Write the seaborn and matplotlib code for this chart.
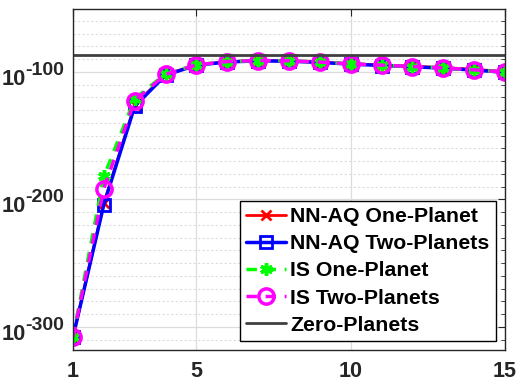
import numpy as np
import pandas as pd
import matplotlib
matplotlib.use("Agg")
import matplotlib.pyplot as plt
import seaborn as sns
from matplotlib.ticker import MultipleLocator, FixedLocator, NullFormatter

# exponents (log10 of the value)
steps = list(range(1, 16))
nn_aq_one = [-308, -203, -126, -102, -94.5, -92, -91.2, -91.4, -92.4, -93.6, -94.6, -95.6, -96.6, -98.0, -99.8]
nn_aq_two = [-308, -204, -127, -102.5, -94.8, -92.2, -91.4, -91.6, -92.6, -93.9, -95.0, -96.0, -97.1, -98.6, -100.3]
is_one = [-308, -182, -121, -101.5, -94.4, -91.9, -91.1, -91.3, -92.3, -93.7, -94.7, -95.8, -96.9, -98.4, -100.2]
is_two = [-308, -191.5, -122.5, -102, -94.5, -91.9, -91.1, -91.3, -92.3, -93.7, -94.7, -95.8, -96.9, -98.4, -100.2]
zero_planets = -87

labels = ["NN-AQ One-Planet", "NN-AQ Two-Planets", "IS One-Planet", "IS Two-Planets", "Zero-Planets"]
x_ticks = [1, 5, 10, 15]
y_ticks = [-300, -200, -100]

sns.set_style("white")
plt.rcParams["font.family"] = ["Liberation Sans", "DejaVu Sans"]
plt.rcParams["font.weight"] = "bold"

df = pd.DataFrame({"step": steps, "nn1": nn_aq_one, "nn2": nn_aq_two,
                   "is1": is_one, "is2": is_two})

fig = plt.figure(figsize=(5.25, 3.91), dpi=100)
ax = fig.add_axes([0.139, 0.105, 0.823, 0.871])

dash = (0, (3, 2.5))
sns.lineplot(data=df, x="step", y="nn1", ax=ax, color="red", lw=2, marker="x",
             markersize=7, mew=2, mec="red")
sns.lineplot(data=df, x="step", y="nn2", ax=ax, color="blue", lw=2.5, marker="s",
             markersize=8, mew=2, mfc="none", mec="blue")
sns.lineplot(data=df, x="step", y="is1", ax=ax, color="#00ff00", lw=2.5, ls=dash,
             marker=(6, 2, 0), markersize=9, mew=2.5, mec="#00ff00")
sns.lineplot(data=df, x="step", y="is2", ax=ax, color="magenta", lw=2.5, ls=dash,
             marker="o", markersize=11, mew=2.5, mfc="none", mec="magenta")
ax.axhline(zero_planets, color="#404040", lw=2)

ax.set_xlim(1, 15)
ax.set_ylim(-318, -51)
ax.xaxis.set_major_locator(FixedLocator(x_ticks))
ax.yaxis.set_major_locator(FixedLocator(y_ticks))
ax.yaxis.set_minor_locator(MultipleLocator(10))
ax.yaxis.set_major_formatter(NullFormatter())
ax.set_xlabel("")
ax.set_ylabel("")

# y tick labels 10^-n (MATLAB style, large superscript)
ytr = ax.get_yaxis_transform()
for v in y_ticks:
    ax.annotate("-%d" % abs(v), xy=(0, v), xycoords=ytr, xytext=(-9, -3),
                textcoords="offset pixels", ha="right", va="baseline",
                fontsize=14, fontweight="bold", color="#262626")
    ax.annotate("10", xy=(0, v), xycoords=ytr, xytext=(-47, -13),
                textcoords="offset pixels", ha="right", va="baseline",
                fontsize=15.7, fontweight="bold", color="#262626")

ax.grid(True, which="major", color="#dcdcdc", lw=0.9)
ax.grid(True, which="minor", axis="y", color="#dcdcdc", lw=0.8, ls=(0, (2, 2)))
ax.tick_params(which="both", direction="in", top=True, right=True,
               colors="#262626", labelcolor="#262626")
ax.tick_params(which="major", length=5)
ax.tick_params(which="minor", length=3)
ax.tick_params(axis="x", pad=8, labelsize=15.5)
for s in ax.spines.values():
    s.set_color("#262626")
    s.set_linewidth(1)

handles = ax.get_lines()[:5]
leg = ax.legend(handles, labels, loc="lower right", bbox_to_anchor=(0.945, 0.128),
                bbox_transform=fig.transFigure, borderaxespad=0,
                fontsize=15.3, frameon=True, fancybox=False, framealpha=1,
                edgecolor="black", handlelength=1.9, handletextpad=0.2,
                labelspacing=0.38, borderpad=0.3)
leg.get_frame().set_linewidth(1)
for t in leg.get_texts():
    t.set_fontweight("bold")
    t.set_color("black")

fig.savefig("out.png", dpi=100)
